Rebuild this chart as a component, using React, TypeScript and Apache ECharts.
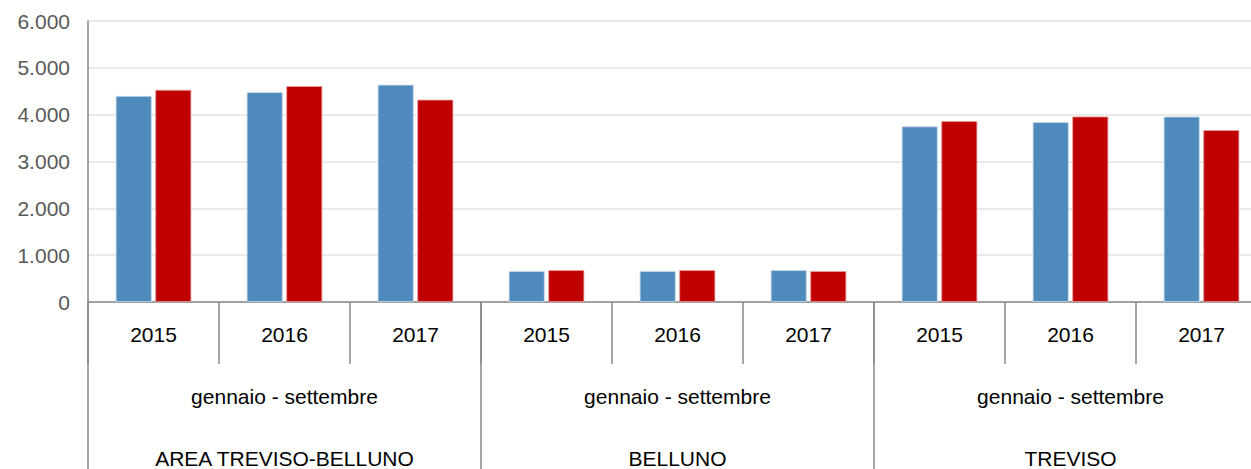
import React, { useEffect, useRef } from "react";
import * as echarts from "echarts";

const years = ["2015", "2016", "2017", "2015", "2016", "2017", "2015", "2016", "2017"];
const periods = ["gennaio - settembre", "gennaio - settembre", "gennaio - settembre"];
const regions = ["AREA TREVISO-BELLUNO", "BELLUNO", "TREVISO"];
const blueValues = [4400, 4480, 4640, 660, 660, 680, 3750, 3840, 3960];
const redValues = [4530, 4610, 4320, 680, 680, 660, 3860, 3960, 3670];
const yTicks = [0, 1000, 2000, 3000, 4000, 5000, 6000];

const fmt = (v: number) => String(v).replace(/\B(?=(\d{3})+(?!\d))/g, ".");

export default function App() {
  const ref = useRef<HTMLDivElement>(null);
  useEffect(() => {
    document.body.style.margin = "0";
    const chart = echarts.init(ref.current!, null, { renderer: "svg" });
    const font = "Liberation Sans, Arial, sans-serif";
    chart.setOption({
      animation: false,
      grid: { left: 88, right: 1, top: 21, bottom: 165, containLabel: false },
      yAxis: {
        type: "value",
        min: yTicks[0],
        max: yTicks[yTicks.length - 1],
        interval: 1000,
        axisLine: { show: true, lineStyle: { color: "#888888", width: 1.5 } },
        axisTick: { show: false },
        splitLine: { show: true, lineStyle: { color: "#e3e3e3", width: 1.5 } },
        axisLabel: {
          color: "#595959",
          fontSize: 21,
          fontFamily: font,
          margin: 18,
          formatter: (v: number) => fmt(v),
        },
      },
      xAxis: [
        {
          type: "category",
          data: years,
          position: "bottom",
          axisLine: { show: true, lineStyle: { color: "#888888", width: 1.5 } },
          axisTick: { show: true, length: 62, lineStyle: { color: "#888888", width: 1.5 } },
          axisLabel: { color: "#000000", fontSize: 21, fontFamily: font, margin: 22 },
        },
        {
          type: "category",
          data: periods,
          position: "bottom",
          axisLine: { show: false },
          axisTick: { show: true, length: 170, lineStyle: { color: "#888888", width: 1.5 } },
          axisLabel: { color: "#000000", fontSize: 21, fontFamily: font, margin: 84 },
        },
        {
          type: "category",
          data: regions,
          position: "bottom",
          axisLine: { show: false },
          axisTick: { show: false },
          axisLabel: { color: "#000000", fontSize: 21, fontFamily: font, margin: 146 },
        },
      ],
      series: [
        {
          type: "bar",
          xAxisIndex: 0,
          data: blueValues,
          barWidth: 36,
          barGap: "10%",
          itemStyle: { color: "#4f8abd", borderColor: "#c9daea", borderWidth: 0.8 },
        },
        {
          type: "bar",
          xAxisIndex: 0,
          data: redValues,
          barWidth: 36,
          barGap: "10%",
          itemStyle: { color: "#c00000", borderColor: "#e89a9a", borderWidth: 0.8 },
        },
      ],
    });
    return () => chart.dispose();
  }, []);
  return (
    <div style={{ width: 1251, height: 469, overflow: "hidden" }}>
      <div ref={ref} style={{ width: 1268, height: 469 }} />
    </div>
  );
}
